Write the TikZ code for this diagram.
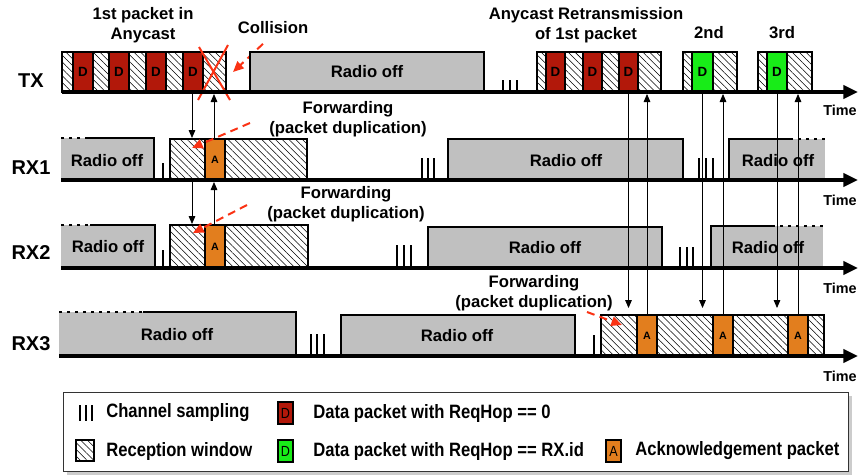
\documentclass[tikz,border=0pt]{standalone}
\usepackage{fontspec}
\setmainfont{Liberation Sans}
\newfontfamily\legfont[FakeStretch=0.86]{Liberation Sans}
\usetikzlibrary{arrows.meta,patterns.meta,shadows,calc}
\definecolor{datared}{RGB}{178,24,10}
\definecolor{datagreen}{RGB}{24,236,24}
\definecolor{ackorange}{RGB}{226,126,30}
\definecolor{offgray}{RGB}{192,192,192}
\definecolor{fwdred}{RGB}{250,50,20}

\begin{document}
\begin{tikzpicture}[
  x=0.75pt, y=-0.75pt,
  rowlbl/.style={font=\fontsize{15}{17}\selectfont\bfseries},
  title/.style={font=\fontsize{12.5}{15}\selectfont\bfseries, align=center},
  offlbl/.style={font=\fontsize{12.5}{15}\selectfont\bfseries},
  timelbl/.style={font=\fontsize{10.8}{13}\selectfont\bfseries, anchor=west, inner sep=0pt},
  pktlbl/.style={font=\fontsize{10}{11}\selectfont\bfseries},
  acklbl/.style={font=\fontsize{8}{9}\selectfont\bfseries},
  leglbl/.style={font=\legfont\fontsize{14.5}{16}\selectfont\bfseries, anchor=west, inner sep=0pt},
  iconlbl/.style={font=\legfont\fontsize{11}{12}\selectfont},
  slot/.style={draw, line width=1.5pt},
  rxwin/.style={slot, pattern={Lines[angle=-45,distance=3.6pt,line width=0.4pt]}},
  dpkt/.style={slot, fill=datared},
  gpkt/.style={slot, fill=datagreen},
  apkt/.style={slot, fill=ackorange},
  offedge/.style={line width=1.5pt},
  offdots/.style={line width=1.5pt, dash pattern=on 2pt off 4pt},
  sample/.style={line width=1.5pt},
  axis/.style={line width=2.5pt, -{Triangle[length=11pt,width=10pt]}},
  msg/.style={line width=0.6pt, -{Triangle[length=6pt,width=5pt]}},
  fwd/.style={fwdred, line width=1.5pt, dash pattern=on 6pt off 4pt, -{Triangle[length=8pt,width=7pt]}},
]
\useasboundingbox (0,0) rectangle (859,475);

% TX: 1st packet in anycast
\foreach \xa/\xb in {62/73, 93/109, 129/146, 166/183, 203/226}
  \draw[rxwin] (\xa,52) rectangle (\xb,92);
\foreach \xa/\xb [count=\i] in {73/93, 109/129, 146/166, 183/203} {
  \draw[dpkt] (\xa,52) rectangle (\xb,92);
  \node[pktlbl] (txd\i) at ({(\xa+\xb)/2},72) {D};
}
\node[title] (first) at (143,25) {1st packet in\\Anycast};

% collision
\draw[fwdred, line width=1.5pt] (199,47) -- (230,100) (228,45) -- (198,100);
\node[title] (coll) at (273,28) {Collision};
\coordinate (collhit) at (233,72);
\draw[fwd] ($(coll.south)+(-10,5)$) -- (collhit);

% TX: radio off and sampling
\fill[offgray] (250,52) rectangle (484,92);
\draw[offedge] (250,92) -- (250,52) -- (484,52) -- (484,92);
\node[offlbl] (txoff) at (367,72) {Radio off};
\foreach \x in {503,510,517}
  \draw[sample] (\x,80) -- (\x,92);

% TX: anycast retransmission
\foreach \xa/\xb in {537/546, 565/583, 602/619, 638/661}
  \draw[rxwin] (\xa,52) rectangle (\xb,92);
\foreach \xa/\xb [count=\i] in {546/565, 583/602, 619/638} {
  \draw[dpkt] (\xa,52) rectangle (\xb,92);
  \node[pktlbl] (txr\i) at ({(\xa+\xb)/2},72) {D};
}
\node[title] (retx) at (586,25) {Anycast Retransmission\\of 1st packet};

% TX: 2nd and 3rd packet
\foreach \xa/\xb in {683/692, 713/737, 758/767, 787/812}
  \draw[rxwin] (\xa,52) rectangle (\xb,92);
\draw[gpkt] (692,52) rectangle (713,92);
\node[pktlbl] (txg1) at (702.5,72) {D};
\draw[gpkt] (767,52) rectangle (787,92);
\node[pktlbl] (txg2) at (777,72) {D};
\node[title] (second) at (709,33) {2nd};
\node[title] (third) at (782,33) {3rd};

% RX1
\fill[offgray] (61,138) rectangle (154,180);
\draw[offdots] (61,138) -- (88,138);
\draw[offedge] (88,138) -- (154,138) -- (154,180);
\node[offlbl] (rx1off1) at (107,161) {Radio off};
\draw[sample] (163,163) -- (163,180);
\draw[rxwin] (170,139) rectangle (205,180);
\draw[rxwin] (225,139) rectangle (307,180);
\draw[apkt] (205,139) rectangle (225,180);
\node[acklbl] (rx1a) at (215,160) {A};
\foreach \x in {422,428,434}
  \draw[sample] (\x,158) -- (\x,180);
\fill[offgray] (448,139) rectangle (683,180);
\draw[offedge] (448,180) -- (448,139) -- (683,139) -- (683,180);
\node[offlbl] (rx1off2) at (566,161) {Radio off};
\foreach \x in {699,706,713}
  \draw[sample] (\x,158) -- (\x,180);
\fill[offgray] (729,139) rectangle (825,180);
\draw[offedge] (729,180) -- (729,139) -- (790,139);
\draw[offdots] (790,139) -- (825,139);
\node[offlbl] (rx1off3) at (778,161) {Radio off};

% RX2
\fill[offgray] (61,225) rectangle (155,268);
\draw[offdots] (61,225) -- (90,225);
\draw[offedge] (90,225) -- (155,225) -- (155,268);
\node[offlbl] (rx2off1) at (108,247) {Radio off};
\draw[sample] (163,250) -- (163,268);
\draw[rxwin] (170,225) rectangle (205,268);
\draw[rxwin] (225,225) rectangle (308,268);
\draw[apkt] (205,225) rectangle (225,268);
\node[acklbl] (rx2a) at (215,247) {A};
\foreach \x in {397,404,411}
  \draw[sample] (\x,245) -- (\x,268);
\fill[offgray] (428,227) rectangle (662,268);
\draw[offedge] (428,268) -- (428,227) -- (662,227) -- (662,268);
\node[offlbl] (rx2off2) at (545,248) {Radio off};
\foreach \x in {680,687,693}
  \draw[sample] (\x,247) -- (\x,268);
\fill[offgray] (711,226) rectangle (823,268);
\draw[offedge] (711,268) -- (711,226) -- (772,226);
\draw[offdots] (772,226) -- (823,226);
\node[offlbl] (rx2off3) at (768,248) {Radio off};

% RX3
\fill[offgray] (59,312) rectangle (296,356);
\draw[offdots] (59,312) -- (143,312);
\draw[offedge] (143,312) -- (296,312) -- (296,356);
\node[offlbl] (rx3off1) at (177,335) {Radio off};
\foreach \x in {311,317,324}
  \draw[sample] (\x,334) -- (\x,356);
\fill[offgray] (341,315) rectangle (575,356);
\draw[offedge] (341,356) -- (341,315) -- (575,315) -- (575,356);
\node[offlbl] (rx3off2) at (457,336) {Radio off};
\draw[sample] (594,335) -- (594,356);
\foreach \xa/\xb in {601/637, 657/713, 733/788, 808/824}
  \draw[rxwin] (\xa,315) rectangle (\xb,356);
\foreach \xa/\xb [count=\i] in {637/657, 713/733, 788/808} {
  \draw[apkt] (\xa,315) rectangle (\xb,356);
  \node[acklbl] (rx3a\i) at ({(\xa+\xb)/2},336) {A};
}

% time axes
\coordinate (txs) at (62,92);    \coordinate (txe) at (858,92);
\coordinate (rx1s) at (61,180);  \coordinate (rx1e) at (858,180);
\coordinate (rx2s) at (61,268);  \coordinate (rx2e) at (858,268);
\coordinate (rx3s) at (59,356);  \coordinate (rx3e) at (858,356);
\draw[axis] (txs) -- (txe);
\draw[axis] (rx1s) -- (rx1e);
\draw[axis] (rx2s) -- (rx2e);
\draw[axis] (rx3s) -- (rx3e);
\node[timelbl] (ttx) at (823,110) {Time};
\node[timelbl] (trx1) at (823,200) {Time};
\node[timelbl] (trx2) at (823,288) {Time};
\node[timelbl] (trx3) at (823,376) {Time};

% row labels
\node[rowlbl] (tx) at (31,81) {TX};
\node[rowlbl] (rx1) at (31,168) {RX1};
\node[rowlbl] (rx2) at (31,253) {RX2};
\node[rowlbl] (rx3) at (31,344) {RX3};

% forwarding to RX1 and RX2
\coordinate (d1a) at (192,94);  \coordinate (d1b) at (192,138);
\coordinate (u1a) at (214,139); \coordinate (u1b) at (214,94);
\coordinate (d2a) at (192,182); \coordinate (d2b) at (192,224);
\coordinate (u2a) at (214,225); \coordinate (u2b) at (214,182);
\draw[msg] (d1a) -- (d1b);
\draw[msg] (u1a) -- (u1b);
\draw[msg] (d2a) -- (d2b);
\draw[msg] (u2a) -- (u2b);

\node[title] (fwd1) at (348,119.5) {Forwarding\\(packet duplication)};
\coordinate (f1a) at (250,123); \coordinate (f1b) at (192,148);
\draw[fwd] (f1a) -- (f1b);
\node[title] (fwd2) at (346,204) {Forwarding\\(packet duplication)};
\coordinate (f2a) at (247,205); \coordinate (f2b) at (193,233);
\draw[fwd] (f2a) -- (f2b);

% retransmissions to RX3
\foreach \xd/\xu [count=\i] in {628.5/647, 702.5/723, 777/798} {
  \coordinate (rd\i a) at (\xd,94);  \coordinate (rd\i b) at (\xd,308);
  \coordinate (ru\i a) at (\xu,315); \coordinate (ru\i b) at (\xu,94);
  \draw[msg] (rd\i a) -- (rd\i b);
  \draw[msg] (ru\i a) -- (ru\i b);
}
\node[title] (fwd3) at (534,293.5) {Forwarding\\(packet duplication)};
\coordinate (f3a) at (587,312); \coordinate (f3b) at (622,325);
\draw[fwd] (f3a) -- (f3b);

% legend
\node[draw=black!80, line width=1pt, fill=white, drop shadow={opacity=0.4},
  minimum width=785*0.75pt, minimum height=79*0.75pt, anchor=north west] (legend) at (63,392) {};
\foreach \x in {80,86,92}
  \draw[sample] (\x,405) -- (\x,421);
\node[leglbl] (lsamp) at (106,413) {Channel sampling};
\draw[rxwin, line width=1.2pt] (76,440) rectangle (94,461);
\node[leglbl] (lrx) at (106,451) {Reception window};
\draw[dpkt, line width=1.2pt] (278,402) rectangle (293,424);
\node[iconlbl] (ld) at (285.5,413) {D};
\node[leglbl] (lred) at (313,413) {Data packet with ReqHop == 0};
\draw[gpkt, line width=1.2pt] (278,440) rectangle (293,462);
\node[iconlbl] (lg) at (285.5,451) {D};
\node[leglbl] (lgreen) at (313,451) {Data packet with ReqHop == RX.id};
\draw[apkt, line width=1.2pt] (606,440) rectangle (621,462);
\node[iconlbl] (la) at (613.5,451) {A};
\node[leglbl] (lack) at (635,451) {Acknowledgement packet};

\end{tikzpicture}
\end{document}
